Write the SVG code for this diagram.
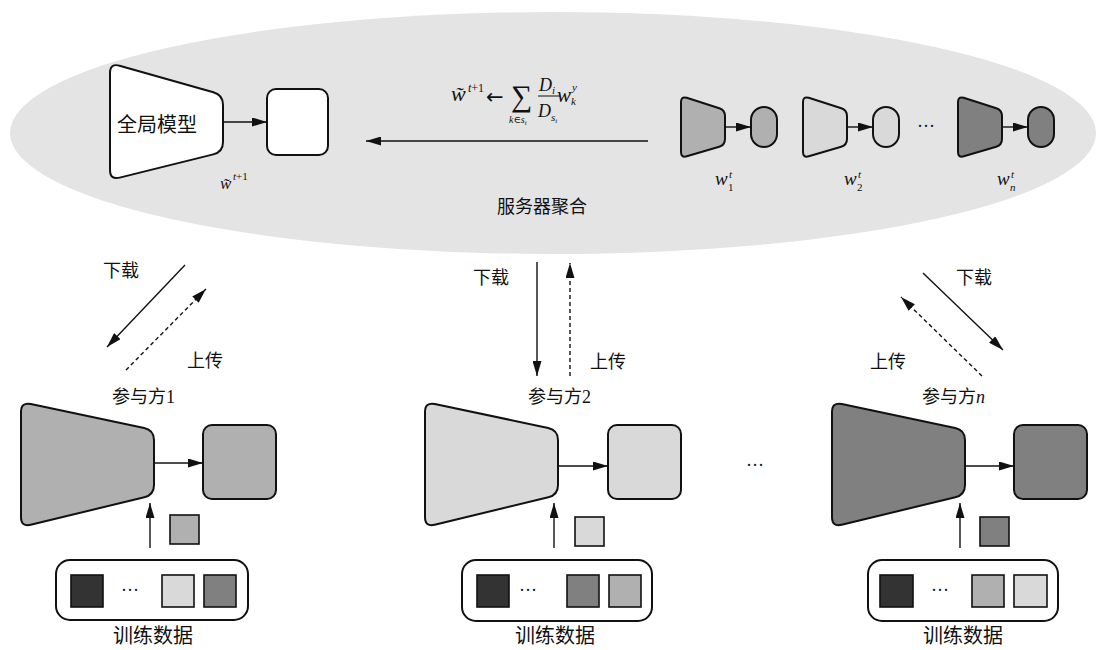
<svg xmlns="http://www.w3.org/2000/svg" width="1098" height="650" viewBox="0 0 1098 650">
  <style>
    .cn { font-family: "Noto Sans CJK SC", "Liberation Serif", sans-serif; fill: #111; }
    .m { font-family: "Liberation Serif", "DejaVu Serif", serif; font-style: italic; fill: #111; }
    .r { font-family: "Liberation Serif", "DejaVu Serif", serif; font-style: normal; fill: #111; }
    .shape { stroke: #111; stroke-width: 2; }
    .box { stroke: #111; stroke-width: 2; }
    .tile { stroke: #111; stroke-width: 1.6; }
    .arr { stroke: #111; stroke-width: 1.4; fill: none; marker-end: url(#ah); }
    .dash { stroke-dasharray: 4 3; }
    .c0 { fill: #ffffff; }
    .c1 { fill: #b0b0b0; }
    .c2 { fill: #d9d9d9; }
    .c3 { fill: #808080; }
    .c4 { fill: #333333; }
  </style>
  <defs>
    <marker id="ah" markerWidth="15" markerHeight="9" refX="15" refY="4.5" orient="auto" markerUnits="userSpaceOnUse">
      <path d="M0,0 L15,4.5 L0,9 Z" fill="#111"/>
    </marker>
    <!-- participant model: wide input side on the left, narrow output side on the right -->
    <path id="bigTrap" d="M0,10 Q0,0 9.8,2.1 L123.2,25.9 Q133,28 133,38 L133,83 Q133,93 123.3,95.3 L9.7,122.7 Q0,125 0,115 Z"/>
    <path id="smallTrap" d="M0,6 Q0,0 5.7,1.8 L38.3,12.2 Q44,14 44,20 L44,43 Q44,49 38.2,50.7 L5.8,60.3 Q0,62 0,56 Z"/>
  </defs>

  <!-- server region -->
  <g id="server">
    <ellipse cx="553" cy="133" rx="543" ry="121" fill="#e4e4e4"/>
    <text class="cn" x="497" y="213" font-size="18">服务器聚合</text>
  </g>

  <!-- global model on the server -->
  <g id="global-model">
    <path class="shape c0" d="M110,73 Q110,63 119.6,65.7 L213.4,92.3 Q223,95 223,105 L223,142 Q223,152 213.3,154.4 L119.7,177.6 Q110,180 110,170 Z"/>
    <text class="cn" x="117" y="132" font-size="20">全局模型</text>
    <rect class="box c0" x="267" y="89" width="61" height="66" rx="9"/>
    <text class="m" x="220" y="189" font-size="17">w&#x0303;</text>
    <text class="m" x="233" y="180" font-size="11">t<tspan class="r">+1</tspan></text>
  </g>

  <!-- aggregation rule -->
  <g id="formula">
    <text class="m" x="451" y="101" font-size="22">w&#x0303;</text>
    <text class="m" x="468" y="92" font-size="12">t<tspan class="r">+1</tspan></text>
    <text x="486" y="104" font-size="21" font-family="DejaVu Sans, sans-serif" fill="#111">←</text>
    <text class="r" x="511" y="106" font-size="30">∑</text>
    <text class="m" x="509" y="123" font-size="10">k<tspan class="r">∈</tspan>s<tspan font-size="7" dy="2">t</tspan></text>
    <text class="m" x="539" y="91" font-size="18">D<tspan font-size="11" dy="3">i</tspan></text>
    <line x1="538" y1="96" x2="560" y2="96" stroke="#111" stroke-width="1"/>
    <text class="m" x="538" y="117" font-size="18">D<tspan font-size="11" dy="4">s</tspan><tspan font-size="7" dy="2">t</tspan></text>
    <text class="m" x="557" y="102" font-size="21">w</text>
    <text class="m" x="572" y="91" font-size="11">y</text>
    <text class="m" x="571" y="105" font-size="11">k</text>
  </g>

  <!-- uploaded local models on the server -->
  <g id="local-model-1">
    <use href="#smallTrap" class="shape c1" x="681" y="96"/>
    <rect class="box c1" x="751" y="107" width="26" height="40" rx="13"/>
    <text class="m" x="715" y="185" font-size="19">w</text>
    <text class="m" x="729" y="178" font-size="11">t</text>
    <text class="r" x="728" y="191" font-size="11">1</text>
  </g>
  <g id="local-model-2">
    <use href="#smallTrap" class="shape c2" x="803" y="96"/>
    <rect class="box c2" x="873" y="107" width="26" height="40" rx="13"/>
    <text class="m" x="844" y="185" font-size="19">w</text>
    <text class="m" x="858" y="178" font-size="11">t</text>
    <text class="r" x="857" y="191" font-size="11">2</text>
  </g>
  <g id="local-model-n">
    <use href="#smallTrap" class="shape c3" x="958" y="96"/>
    <rect class="box c3" x="1028" y="107" width="26" height="40" rx="13"/>
    <text class="m" x="997" y="185" font-size="19">w</text>
    <text class="m" x="1011" y="178" font-size="11">t</text>
    <text class="m" x="1010" y="191" font-size="11">n</text>
  </g>
  <text class="r" x="926" y="132" font-size="18" text-anchor="middle">···</text>

  <!-- participant 1 -->
  <g id="participant-1">
    <text class="cn" x="112" y="403" font-size="18">参与方<tspan class="r">1</tspan></text>
    <use href="#bigTrap" class="shape c1" x="21" y="402"/>
    <rect class="box c1" x="203" y="425" width="73" height="74" rx="9"/>
    <rect class="tile c1" x="170" y="515" width="29" height="29"/>
    <rect class="box c0" x="56" y="560" width="192" height="60" rx="14"/>
    <rect class="tile c4" x="71" y="575" width="32" height="32"/>
    <text class="r" x="130" y="596" font-size="18" text-anchor="middle">···</text>
    <rect class="tile c2" x="162" y="575" width="32" height="32"/>
    <rect class="tile c3" x="204" y="575" width="32" height="32"/>
    <text class="cn" x="113" y="643" font-size="20">训练数据</text>
  </g>

  <!-- participant 2 -->
  <g id="participant-2">
    <text class="cn" x="528" y="403" font-size="18">参与方<tspan class="r">2</tspan></text>
    <use href="#bigTrap" class="shape c2" x="425" y="402"/>
    <rect class="box c2" x="608" y="425" width="73" height="74" rx="9"/>
    <rect class="tile c2" x="575" y="517" width="29" height="29"/>
    <rect class="box c0" x="462" y="560" width="190" height="61" rx="14"/>
    <rect class="tile c4" x="477" y="575" width="32" height="32"/>
    <text class="r" x="528" y="596" font-size="18" text-anchor="middle">···</text>
    <rect class="tile c3" x="567" y="575" width="32" height="32"/>
    <rect class="tile c1" x="609" y="575" width="32" height="32"/>
    <text class="cn" x="515" y="643" font-size="20">训练数据</text>
  </g>

  <text class="r" x="755" y="471" font-size="18" text-anchor="middle">···</text>

  <!-- participant n -->
  <g id="participant-n">
    <text class="cn" x="922" y="403" font-size="18">参与方<tspan class="m">n</tspan></text>
    <use href="#bigTrap" class="shape c3" x="832" y="402"/>
    <rect class="box c3" x="1014" y="425" width="73" height="74" rx="9"/>
    <rect class="tile c3" x="980" y="517" width="29" height="29"/>
    <rect class="box c0" x="868" y="560" width="190" height="61" rx="14"/>
    <rect class="tile c4" x="880" y="575" width="33" height="32"/>
    <text class="r" x="940" y="596" font-size="18" text-anchor="middle">···</text>
    <rect class="tile c1" x="972" y="575" width="32" height="32"/>
    <rect class="tile c2" x="1014" y="575" width="33" height="32"/>
    <text class="cn" x="923" y="643" font-size="20">训练数据</text>
  </g>

  <!-- connectors -->
  <g id="connectors">
    <!-- inside the server -->
    <line class="arr" x1="223" y1="122" x2="267" y2="122"/>
    <line class="arr" x1="725" y1="127" x2="751" y2="127"/>
    <line class="arr" x1="847" y1="127" x2="873" y2="127"/>
    <line class="arr" x1="1002" y1="127" x2="1028" y2="127"/>
    <line class="arr" x1="648" y1="141" x2="366" y2="141"/>

    <!-- download / upload -->
    <line class="arr" x1="185" y1="265" x2="107" y2="347"/>
    <line class="arr dash" x1="126" y1="370" x2="206" y2="289"/>
    <line class="arr" x1="537" y1="262" x2="537" y2="376"/>
    <line class="arr dash" x1="570" y1="376" x2="570" y2="263"/>
    <line class="arr" x1="923" y1="273" x2="1003" y2="350"/>
    <line class="arr dash" x1="982" y1="376" x2="901" y2="297"/>

    <!-- local training -->
    <line class="arr" x1="154" y1="463" x2="203" y2="463"/>
    <line class="arr" x1="150" y1="548" x2="150" y2="503"/>
    <line class="arr" x1="558" y1="466" x2="608" y2="466"/>
    <line class="arr" x1="554" y1="548" x2="554" y2="503"/>
    <line class="arr" x1="965" y1="466" x2="1014" y2="466"/>
    <line class="arr" x1="960" y1="548" x2="960" y2="503"/>
  </g>

  <g id="labels">
    <text class="cn" x="103" y="277" font-size="18">下载</text>
    <text class="cn" x="187" y="367" font-size="18">上传</text>
    <text class="cn" x="473" y="284" font-size="18">下载</text>
    <text class="cn" x="590" y="368" font-size="18">上传</text>
    <text class="cn" x="956" y="284" font-size="18">下载</text>
    <text class="cn" x="870" y="368" font-size="18">上传</text>
  </g>
</svg>
